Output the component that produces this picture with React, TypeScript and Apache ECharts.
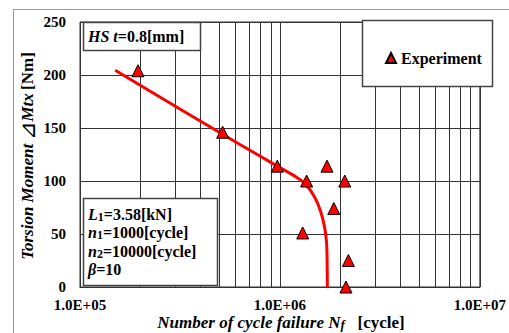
import React, { useEffect, useRef } from 'react';
import * as echarts from 'echarts';

const expCycles = [1.95e5, 5.17e5, 9.7e5, 1.36e6, 1.72e6, 2.11e6, 1.86e6, 1.3e6, 2.2e6, 2.14e6];
const expMoment = [204, 146, 114, 100, 114, 100, 74, 51, 25, 0];
const fitCycles = [1.5e5, 3.16e5, 6.31e5, 9.6e5, 1.2e6, 1.35e6, 1.5e6, 1.6e6, 1.67e6, 1.71e6, 1.722e6, 1.726e6];
const fitMoment = [204.4, 168, 134.5, 114.5, 104, 96.5, 84, 71, 57, 42.5, 25, 0];
const minorGridCycles = [2e5, 3e5, 4e5, 5e5, 6e5, 7e5, 8e5, 9e5, 2e6, 3e6, 4e6, 5e6, 6e6, 7e6, 8e6, 9e6];
const xTickLabels = ['1.0E+05', '1.0E+06', '1.0E+07'];
const yMin = 0;
const yMax = 250;
const yStep = 50;

const FONT = "'Liberation Serif', 'Times New Roman', serif";

export default function App() {
  const ref = useRef<HTMLDivElement>(null);
  useEffect(() => {
    if (!ref.current) return;
    const chart = echarts.init(ref.current, null, { renderer: 'svg' });
    const rich = {
      i: { fontFamily: FONT, fontWeight: 'bold', fontStyle: 'italic', fontSize: 16, color: '#000' },
      b: { fontFamily: FONT, fontWeight: 'bold', fontSize: 16, color: '#000' },
      s: { fontFamily: FONT, fontWeight: 'bold', fontSize: 12, color: '#000', verticalAlign: 'bottom', padding: [5, 0, 0, 0] },
    };
    const richTitle = {
      i: { fontFamily: FONT, fontWeight: 'bold', fontStyle: 'italic', fontSize: 17, color: '#000' },
      b: { fontFamily: FONT, fontWeight: 'bold', fontSize: 17, color: '#000' },
      d: { fontFamily: FONT, fontSize: 22, color: '#000' },
      si: { fontFamily: FONT, fontWeight: 'bold', fontStyle: 'italic', fontSize: 13, color: '#000', padding: [4, 0, 0, 0] },
    };
    const option: any = {
      animation: false,
      grid: { left: 80, top: 22, width: 401, height: 265, show: true, borderColor: '#333', borderWidth: 1 },
      xAxis: {
        type: 'log',
        logBase: 10,
        min: 1e5,
        max: 1e7,
        splitNumber: 2,
        axisLine: { show: true, lineStyle: { color: '#333', width: 1 } },
        axisTick: { show: false },
        axisLabel: {
          margin: 10,
          fontFamily: FONT,
          fontWeight: 'bold',
          fontSize: 15,
          color: '#000',
          formatter: (v: number) => xTickLabels[Math.round(Math.log10(v)) - 5] ?? '',
        },
        splitLine: { show: true, lineStyle: { color: '#333', width: 1 } },
      },
      yAxis: {
        type: 'value',
        min: yMin,
        max: yMax,
        interval: yStep,
        axisLine: { show: true, lineStyle: { color: '#333', width: 1 } },
        axisTick: { show: false },
        axisLabel: { margin: 14, fontFamily: FONT, fontWeight: 'bold', fontSize: 15, color: '#000' },
        splitLine: { show: true, lineStyle: { color: '#333', width: 1 } },
      },
      legend: {
        left: 380,
        top: 45,
        itemWidth: 10,
        itemHeight: 10,
        itemGap: 5,
        data: ['Experiment'],
        textStyle: { fontFamily: FONT, fontWeight: 'bold', fontSize: 16, color: '#000' },
        z: 200,
      },
      series: [
        {
          name: 'grid',
          type: 'line',
          data: [],
          silent: true,
          z: 1,
          markLine: {
            silent: true,
            symbol: 'none',
            label: { show: false },
            lineStyle: { color: '#333', width: 1, type: 'solid' },
            data: minorGridCycles.map((c) => ({ xAxis: c })),
            z: 1,
          },
        },
        {
          name: 'Fit',
          type: 'line',
          data: fitCycles.map((c, i) => [c, fitMoment[i]]),
          showSymbol: false,
          smooth: 0.3,
          lineStyle: { color: '#ff0000', width: 3 },
          z: 5,
        },
        {
          name: 'Experiment',
          type: 'scatter',
          data: expCycles.map((c, i) => [c, expMoment[i]]),
          symbol: 'triangle',
          symbolSize: [12, 12],
          itemStyle: { color: '#ff0000', borderColor: '#000', borderWidth: 1, opacity: 1 },
          z: 10,
        },
      ],
      graphic: [
        {
          type: 'rect',
          z: 0,
          silent: true,
          shape: { x: 13.5, y: 9.5, width: 600, height: 400 },
          style: { fill: 'none', stroke: '#999', lineWidth: 1 },
        },
        {
          type: 'rect',
          z: 100,
          shape: { x: 83.5, y: 22.5, width: 117, height: 28 },
          style: { fill: '#fff', stroke: '#444', lineWidth: 1.5 },
        },
        {
          type: 'text',
          z: 101,
          x: 88,
          y: 36.5,
          style: { text: '{i|HS t}{b|=0.8[mm]}', rich, verticalAlign: 'middle', align: 'left' },
        },
        {
          type: 'rect',
          z: 100,
          shape: { x: 362.5, y: 20.5, width: 130, height: 66 },
          style: { fill: '#fff', stroke: '#444', lineWidth: 1.5 },
        },
        {
          type: 'rect',
          z: 100,
          shape: { x: 83.5, y: 198.5, width: 134, height: 87 },
          style: { fill: '#fff', stroke: '#444', lineWidth: 1.5 },
        },
        {
          type: 'text',
          z: 101,
          x: 88,
          y: 214,
          style: { text: '{i|L}{s|1}{b|=3.58[kN]}', rich, verticalAlign: 'middle', align: 'left' },
        },
        {
          type: 'text',
          z: 101,
          x: 88,
          y: 232,
          style: { text: '{i|n}{s|1}{b|=1000[cycle]}', rich, verticalAlign: 'middle', align: 'left' },
        },
        {
          type: 'text',
          z: 101,
          x: 88,
          y: 251,
          style: { text: '{i|n}{s|2}{b|=10000[cycle]}', rich, verticalAlign: 'middle', align: 'left' },
        },
        {
          type: 'text',
          z: 101,
          x: 88,
          y: 269.5,
          style: { text: '{i|β}{b|=10}', rich, verticalAlign: 'middle', align: 'left' },
        },
        {
          type: 'text',
          z: 101,
          x: 281,
          y: 322,
          style: { text: '{i|Number of cycle failure N}{si|f}{b|   [cycle]}', rich: richTitle, verticalAlign: 'middle', align: 'center' },
        },
        {
          type: 'text',
          z: 101,
          x: 27,
          y: 156,
          rotation: Math.PI / 2,
          style: { text: '{i|Torsion Moment }{d|⊿}{i|Mtx} {b|[Nm]}', rich: richTitle, verticalAlign: 'middle', align: 'center' },
        },
      ],
    };
    chart.setOption(option);
    return () => chart.dispose();
  }, []);
  return <div ref={ref} style={{ width: 509, height: 333, position: 'absolute', left: 0, top: 0 }} />;
}
